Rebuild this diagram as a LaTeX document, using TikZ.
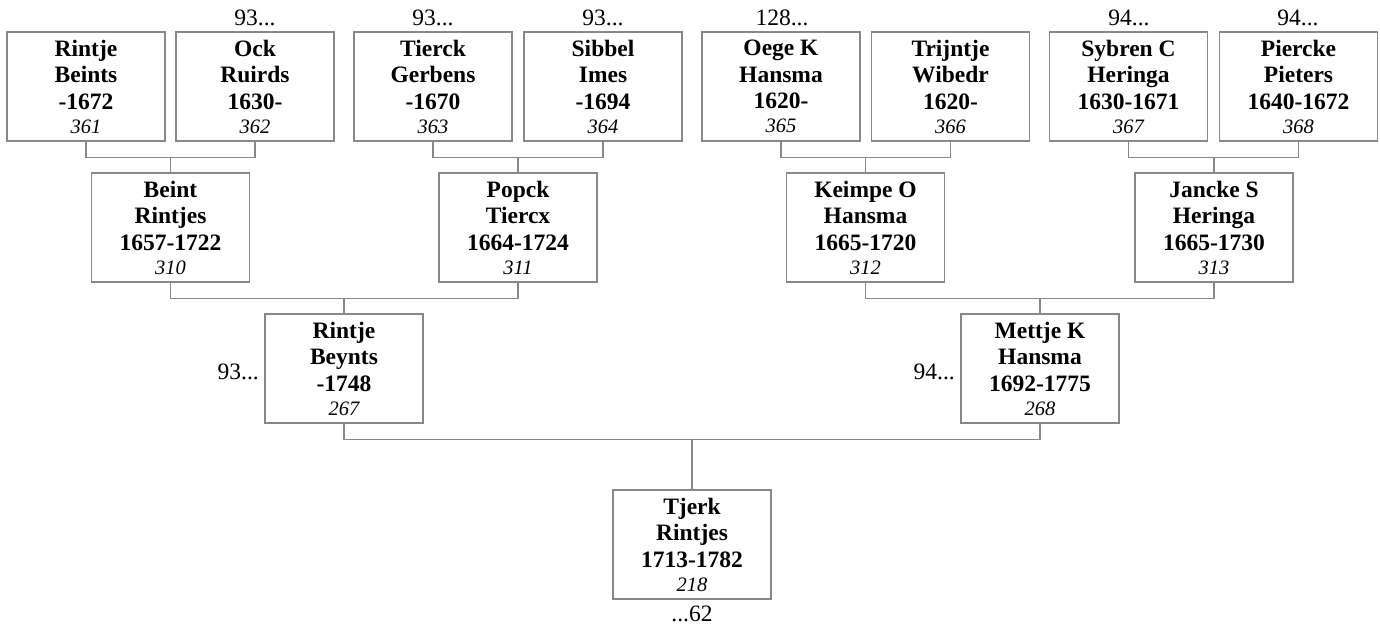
\documentclass[tikz,border=0pt]{standalone}
\usepackage{fontspec}
\setmainfont{Liberation Serif}
\newcommand{\nmfont}{\fontsize{23.5}{26.5}\selectfont\bfseries}
\newcommand{\idfont}{\fontsize{20.5}{24}\selectfont\mdseries\itshape}
\newcommand{\pers}[4]{#1\\#2\\#3\\[-2.5pt]{\idfont #4}}
\tikzset{
  box/.style={draw={rgb,255:red,136;green,136;blue,136}, line width=1.2pt, rectangle,
    minimum width=158pt, minimum height=109pt, inner sep=0pt, align=center, font=\nmfont, fill=white},
  conn/.style={draw={rgb,255:red,136;green,136;blue,136}, line width=1.2pt},
  lab/.style={inner sep=0pt, font=\fontsize{23.5}{26.5}\selectfont}
}
\begin{document}
\begin{tikzpicture}[x=1pt,y=-1pt]
\useasboundingbox (0,0) rectangle (1380,628);
% generation 4 (top)
\node[box] (p361) at (86,86.5)    {\pers{Rintje}{Beints}{-1672}{361}};
\node[box] (p362) at (255,86.5)   {\pers{Ock}{Ruirds}{1630-}{362}};
\node[box] (p363) at (433,86.5)   {\pers{Tierck}{Gerbens}{-1670}{363}};
\node[box] (p364) at (603,86.5)   {\pers{Sibbel}{Imes}{-1694}{364}};
\node[box] (p365) at (781,86.5)   {\pers{Oege K}{Hansma}{1620-}{365}};
\node[box] (p366) at (950.5,86.5) {\pers{Trijntje}{Wibedr}{1620-}{366}};
\node[box] (p367) at (1128.5,86.5){\pers{Sybren C}{Heringa}{1630-1671}{367}};
\node[box] (p368) at (1298.5,86.5){\pers{Piercke}{Pieters}{1640-1672}{368}};
% generation 3
\node[box] (p310) at (170.5,227.5){\pers{Beint}{Rintjes}{1657-1722}{310}};
\node[box] (p311) at (518,227.5)  {\pers{Popck}{Tiercx}{1664-1724}{311}};
\node[box] (p312) at (865.5,227.5){\pers{Keimpe O}{Hansma}{1665-1720}{312}};
\node[box] (p313) at (1214,227.5) {\pers{Jancke S}{Heringa}{1665-1730}{313}};
% generation 2
\node[box] (p267) at (344,368.5)  {\pers{Rintje}{Beynts}{-1748}{267}};
\node[box] (p268) at (1040,368.5) {\pers{Mettje K}{Hansma}{1692-1775}{268}};
% generation 1
\node[box] (p218) at (692,544.5)  {\pers{Tjerk}{Rintjes}{1713-1782}{218}};
% labels
\node[lab, anchor=base] (l362) at (255,26) {93...};
\node[lab, anchor=base] (l363) at (433,26) {93...};
\node[lab, anchor=base] (l364) at (603,26) {93...};
\node[lab, anchor=base] (l365) at (782,26) {128...};
\node[lab, anchor=base] (l367) at (1129,26) {94...};
\node[lab, anchor=base] (l368) at (1298,26) {94...};
\node[lab, anchor=base east] (l267) at (259,379) {93...};
\node[lab, anchor=base east] (l268) at (955,379) {94...};
\node[lab, anchor=base] (l218) at (692,621) {...62};
% connectors
\draw[conn] (p361.south) -- ++(0,16) coordinate (j310) -| (p362.south);
\draw[conn] (p310.north) -- (p310.north |- j310);
\draw[conn] (p363.south) -- ++(0,16) coordinate (j311) -| (p364.south);
\draw[conn] (p311.north) -- (p311.north |- j311);
\draw[conn] (p365.south) -- ++(0,16) coordinate (j312) -| (p366.south);
\draw[conn] (p312.north) -- (p312.north |- j312);
\draw[conn] (p367.south) -- ++(0,16) coordinate (j313) -| (p368.south);
\draw[conn] (p313.north) -- (p313.north |- j313);
\draw[conn] (p310.south) -- ++(0,16) coordinate (j267) -| (p311.south);
\draw[conn] (p267.north) -- (p267.north |- j267);
\draw[conn] (p312.south) -- ++(0,16) coordinate (j268) -| (p313.south);
\draw[conn] (p268.north) -- (p268.north |- j268);
\draw[conn] (p267.south) -- ++(0,16) coordinate (j218) -| (p268.south);
\draw[conn] (p218.north) -- (p218.north |- j218);
\end{tikzpicture}
\end{document}
